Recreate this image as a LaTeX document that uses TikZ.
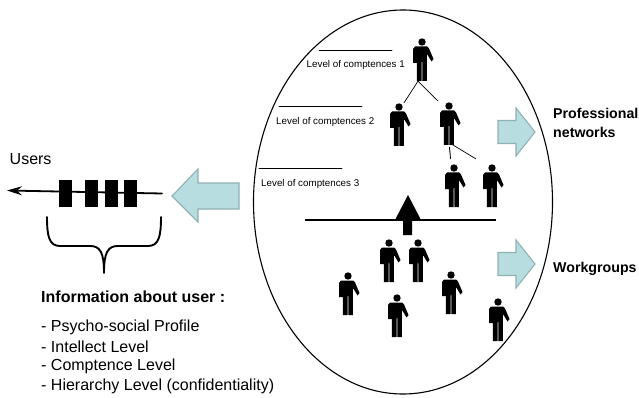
\documentclass[tikz,border=0pt]{standalone}
\usepackage{fontspec}
\setmainfont{Liberation Sans}
\usepackage{xcolor}
\usetikzlibrary{positioning,calc,arrows.meta}
\definecolor{arrowfill}{HTML}{B7DDE0}
\definecolor{arrowedge}{HTML}{8FB1B4}
\tikzset{
	person/.pic={
		\fill[black] (0,0) circle (3.7);
		\fill[black] (-7,4.5) -- (5,4.5) -- (7,6.5) -- (11.5,17) -- (9.5,19.5) -- (5,12)
		-- (4.8,39) -- (0.4,39) -- (0.4,20) -- (-0.4,20) -- (-0.4,39) -- (-5.2,39)
		-- (-5.2,21) -- (-9,21) -- (-9,7) -- cycle;
	},
	personbox/.style={minimum width=20pt,minimum height=40pt,inner sep=0pt},
	blockarrow/.style={fill=arrowfill,draw=arrowedge,line width=1.1pt,line join=miter},
	levellabel/.style={anchor=west,inner sep=0pt,font=\fontsize{9.8}{12}\selectfont},
	listlabel/.style={anchor=west,inner sep=0pt,font=\fontsize{16}{18}\selectfont},
	boldlabel/.style={anchor=west,inner sep=0pt,font=\fontsize{14.2}{19}\selectfont\bfseries,align=left},
	userbar/.style={fill=black,inner sep=0pt,minimum width=13pt,minimum height=27pt}
}
\begin{document}
\begin{tikzpicture}[
	x=1pt,y=-1pt,
	line cap=round,line join=round
	]
	\useasboundingbox (0,0) rectangle (639,398);
	
	% ---- ellipse
	\draw[black, line width=1.1pt] (403,202) ellipse [x radius=149.5, y radius=192];
	
	% ---- levels
	\draw[black, line width=0.9pt] (319,50) -- (392,50);
	\draw[black, line width=0.9pt] (279,106) -- (362,106);
	\draw[black, line width=0.9pt] (259,168) -- (342,168);
	\node[levellabel] (lvlA) at (306.5,65) {Level of comptences 1};
	\node[levellabel] (lvlB) at (276,122) {Level of comptences 2};
	\node[levellabel] (lvlC) at (261,184) {Level of comptences 3};
	
	% ---- people
	\foreach \name/\hx/\hy in {top/422/42, midL/399/107, midR/449/106, lowL/454/168, lowR/492/168,
		grpA/389/243, grpB/418/243, grpC/348/276, grpD/451/275, grpE/397/298, grpF/498/302}{
		\node[personbox] (\name) at (\hx+1,\hy+17) {};
		\pic at (\hx,\hy) {person};
	}
	
	% hierarchy
	\draw[black, line width=0.7pt] ([shift={(-5,2)}]top.south) -- ([shift={(4,-1)}]midL.north);
	\draw[black, line width=0.7pt] ([shift={(-5,2)}]top.south) -- ([shift={(-2,-2)}]midR.north west);
	\draw[black, line width=0.9pt] ([shift={(-0.5,4)}]midR.south) -- ([shift={(-4.5,-6)}]lowL.north);
	\draw[black, line width=0.7pt] ([shift={(0,0)}]midR.south) -- ([shift={(-7,-6)}]lowR.north west);
	
	% ---- separator and up arrow
	\draw[black, line width=1.7pt, line cap=butt] (305,220) -- (496,220);
	\fill[black] (408,195) -- (421,220) -- (412,220) -- (412,235) -- (403,235) -- (403,220) -- (395,220) -- cycle;
	
	% ---- block arrows
	\draw[blockarrow] (239,183) -- (198,183) -- (198,169) -- (172,196) -- (198,222) -- (198,209) -- (239,209) -- cycle;
	\foreach \yc in {132,264}{
		\draw[blockarrow] (498,\yc-11.5) -- (516,\yc-11.5) -- (516,\yc-24) -- (535,\yc) -- (516,\yc+24) -- (516,\yc+11.5) -- (498,\yc+11.5) -- cycle;
	}
	\node[boldlabel] (prof) at (553,122.5) {Professional\\networks};
	\node[boldlabel] (work) at (553,269) {Workgroups};
	
	% ---- users queue
	\coordinate (queueR) at (162,193.5);
	\coordinate (queueL) at (7,190.5);
	\draw[-{Stealth[length=15pt,width=9pt,inset=5pt]}, black, line width=1.8pt] (queueR) -- (queueL);
	\foreach \name/\xc in {barA/65.5, barB/91, barC/111.5, barD/130.5}{
		\node[userbar] (\name) at (\xc,193.5) {};
	}
	\node[anchor=west, inner sep=0pt, font=\fontsize{16}{18}\selectfont] (users) at (9.5,159) {Users};
	
	% brace
	\draw[black, line width=1.9pt]
	(47,217) .. controls (47,236) and (49,246) .. (60,246) -- (90,246)
	.. controls (100,246) and (104,252) .. (104,273)
	.. controls (104,252) and (108,246) .. (118,246) -- (148,246)
	.. controls (159,246) and (161,236) .. (161,217);
	
	% ---- information
	\node[anchor=west, inner sep=0pt, font=\fontsize{16}{18}\selectfont\bfseries] (info) at (41,297) {Information about user :};
	\foreach \name/\yc/\txt in {infoA/327/Psycho-social Profile, infoB/347/Intellect Level,
		infoC/366/Comptence Level, infoD/386/Hierarchy Level (confidentiality)}{
		\node[listlabel] (\name) at (41,\yc) {- \txt};
	}
\end{tikzpicture}
\end{document}
